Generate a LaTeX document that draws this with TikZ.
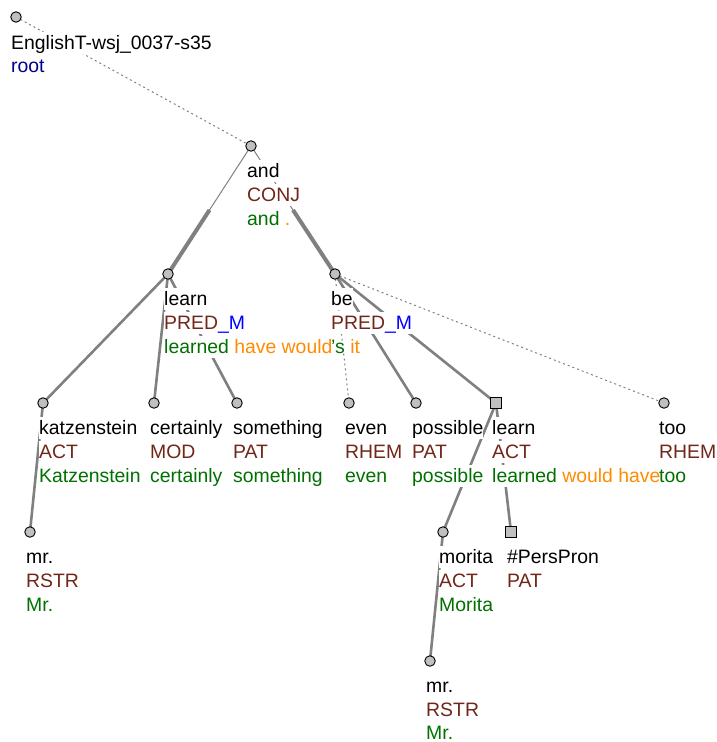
\documentclass[tikz,border=0pt]{standalone}
\usepackage{fontspec}
\setmainfont{Liberation Sans}
\usetikzlibrary{calc}

\definecolor{functor}{RGB}{112,38,24}
\definecolor{formgreen}{RGB}{0,112,0}
\definecolor{auxorange}{RGB}{255,140,0}
\definecolor{rootblue}{RGB}{0,0,140}
\definecolor{suffixblue}{RGB}{0,0,255}
\definecolor{edgegray}{RGB}{128,128,128}
\definecolor{nodefill}{RGB}{192,192,192}

\pgfdeclarelayer{edges}
\pgfsetlayers{edges,main}

% colours of the label lines
\newcommand\fn[1]{\textcolor{functor}{#1}}
\newcommand\fm[1]{\textcolor{formgreen}{#1}}
\newcommand\ax[1]{\textcolor{auxorange}{#1}}

\begin{document}
\begin{tikzpicture}[x=1pt,y=-1pt,
  tnode/.style={circle,draw=black,fill=nodefill,line width=0.9pt,minimum size=10.5pt,inner sep=0pt},
  tsq/.style={rectangle,draw=black,fill=nodefill,line width=0.9pt,minimum size=10.5pt,inner sep=0pt},
  lbl/.style={anchor=base west,inner xsep=0pt,inner ysep=0.5pt,fill=white,
              text height=17pt,text depth=4.5pt,
              font=\fontsize{19.4}{23.5}\selectfont},
  lblclear/.style={lbl,fill=none},
  edge/.style={draw=edgegray,line width=2.6pt},
  edgethin/.style={draw=edgegray,line width=1pt},
  edgecoord/.style={draw=edgegray,line width=4pt},
  edgedot/.style={draw=edgegray,line width=1pt,dash pattern=on 2pt off 3pt},
]
\useasboundingbox (0,0) rectangle (717,742);

% tree nodes
\node[tnode] (root)      at (16,17)   {};
\node[tnode] (and)       at (251,146) {};
\node[tnode] (learnL)    at (168,274) {};
\node[tnode] (be)        at (335,274) {};
\node[tnode] (katz)      at (43,403)  {};
\node[tnode] (certainly) at (154,403) {};
\node[tnode] (something) at (237,403) {};
\node[tnode] (even)      at (349,403) {};
\node[tnode] (possible)  at (416,403) {};
\node[tsq]   (learnR)    at (496,403) {};
\node[tnode] (too)       at (664,403) {};
\node[tnode] (mrA)       at (30,532)  {};
\node[tnode] (morita)    at (443,532) {};
\node[tsq]   (perspron)  at (511,532) {};
\node[tnode] (mrB)       at (430,661) {};

% labels
\path (root.center) ++(-5,32) node[lbl] (root-a) {EnglishT-wsj\_0037-s35}
      ++(0,23.5) node[lbl] (root-b) {\textcolor{rootblue}{root}};
\path (and.center) ++(-4,31) node[lbl] (and-a) {and}
      ++(0,24) node[lbl] (and-b) {\fn{CONJ}}
      ++(0,24) node[lbl] (and-c) {\fm{and} \ax{.}};
\path (learnL.center) ++(-4,31) node[lbl] (learnL-a) {learn}
      ++(0,24) node[lbl] (learnL-b) {\fn{PRED}\textcolor{suffixblue}{\_M}}
      ++(0,24) node[lbl] (learnL-c) {\fm{learned} \ax{have would}};
\path (be.center) ++(-4,31) node[lbl] (be-a) {be}
      ++(0,24) node[lbl] (be-b) {\fn{PRED}\textcolor{suffixblue}{\_M}}
      ++(0,24) node[lblclear] (be-c) {\fm{'s} \ax{it}};
\path (katz.center) ++(-4,31) node[lbl] (katz-a) {katzenstein}
      ++(0,24) node[lbl] (katz-b) {\fn{ACT}}
      ++(0,24) node[lbl] (katz-c) {\fm{Katzenstein}};
\path (certainly.center) ++(-4,31) node[lbl] (certainly-a) {certainly}
      ++(0,24) node[lbl] (certainly-b) {\fn{MOD}}
      ++(0,24) node[lbl] (certainly-c) {\fm{certainly}};
\path (something.center) ++(-4,31) node[lbl] (something-a) {something}
      ++(0,24) node[lbl] (something-b) {\fn{PAT}}
      ++(0,24) node[lbl] (something-c) {\fm{something}};
\path (even.center) ++(-4,31) node[lbl] (even-a) {even}
      ++(0,24) node[lbl] (even-b) {\fn{RHEM}}
      ++(0,24) node[lbl] (even-c) {\fm{even}};
\path (possible.center) ++(-4,31) node[lbl] (possible-a) {possible}
      ++(0,24) node[lbl] (possible-b) {\fn{PAT}}
      ++(0,24) node[lbl] (possible-c) {\fm{possible}};
\path (learnR.center) ++(-4,31) node[lbl] (learnR-a) {learn}
      ++(0,24) node[lbl] (learnR-b) {\fn{ACT}}
      ++(0,24) node[lbl] (learnR-c) {\fm{learned} \ax{would have}};
\path (too.center) ++(-5,31) node[lbl] (too-a) {too}
      ++(0,24) node[lbl] (too-b) {\fn{RHEM}}
      ++(0,24) node[lblclear] (too-c) {\fm{too}};
\path (mrA.center) ++(-4,31) node[lbl] (mrA-a) {mr.}
      ++(0,24) node[lbl] (mrA-b) {\fn{RSTR}}
      ++(0,24) node[lbl] (mrA-c) {\fm{Mr.}};
\path (morita.center) ++(-4,31) node[lbl] (morita-a) {morita}
      ++(0,24) node[lbl] (morita-b) {\fn{ACT}}
      ++(0,24) node[lbl] (morita-c) {\fm{Morita}};
\path (perspron.center) ++(-4,31) node[lbl] (perspron-a) {\#PersPron}
      ++(0,24) node[lbl] (perspron-b) {\fn{PAT}};
\path (mrB.center) ++(-4,31) node[lbl] (mrB-a) {mr.}
      ++(0,24) node[lbl] (mrB-b) {\fn{RSTR}}
      ++(0,23.5) node[lbl] (mrB-c) {\fm{Mr.}};

% edges, beneath the labels
\begin{pgfonlayer}{edges}
  \draw[edgedot] (root.center) -- (and.center);
  \coordinate (mL) at ($(and.center)!0.5!(learnL.center)$);
  \coordinate (mB) at ($(and.center)!0.5!(be.center)$);
  \draw[edgethin] (and.center) -- (mL);
  \draw[edgecoord] (mL) -- (learnL.center);
  \draw[edgethin] (and.center) -- (mB);
  \draw[edgecoord] (mB) -- (be.center);
  \draw[edge] (learnL.center) -- (katz.center);
  \draw[edge] (learnL.center) -- (certainly.center);
  \draw[edge] (learnL.center) -- (something.center);
  \draw[edge] (katz.center) -- (mrA.center);
  \draw[edgedot] (be.center) -- (even.center);
  \draw[edge] (be.center) -- (possible.center);
  \draw[edge] (be.center) -- (learnR.center);
  \draw[edgedot] (be.center) -- (too.center);
  \draw[edge] (learnR.center) -- (morita.center);
  \draw[edge] (learnR.center) -- (perspron.center);
  \draw[edge] (morita.center) -- (mrB.center);
\end{pgfonlayer}
\end{tikzpicture}
\end{document}
